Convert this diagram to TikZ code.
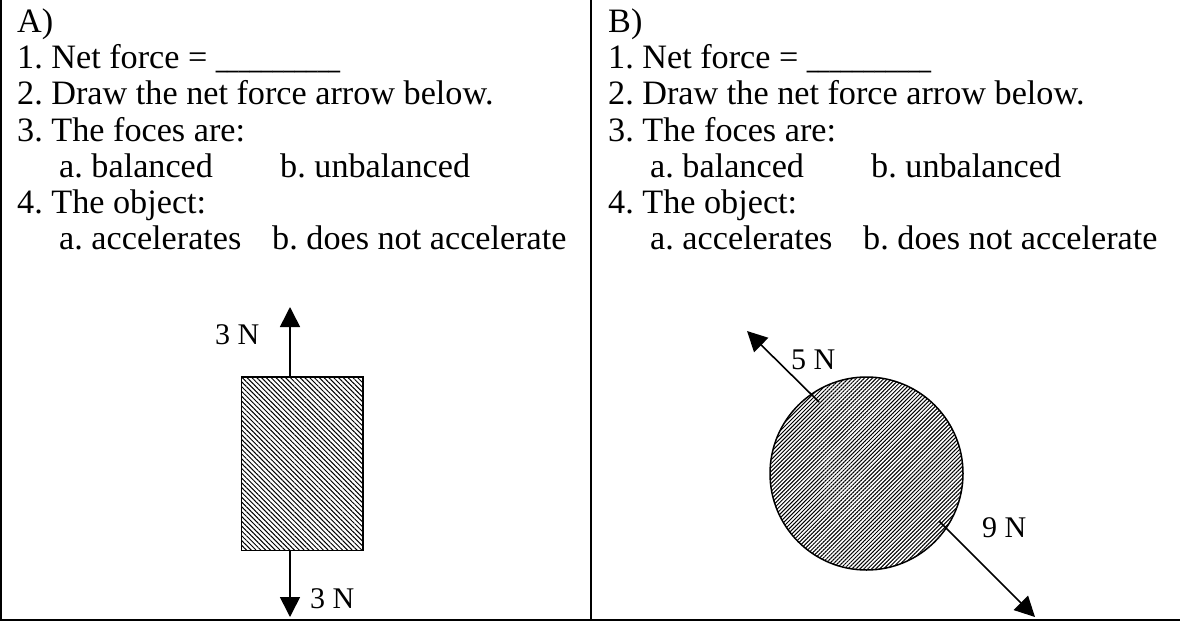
\documentclass[tikz,border=0pt]{standalone}
\usepackage{fontspec}
\usepackage{graphicx}
\setmainfont{Liberation Serif}
\usetikzlibrary{arrows.meta,patterns.meta}
\frenchspacing
\begin{document}
\begin{tikzpicture}[x=1pt,y=-1pt,
  txt/.style={anchor=base west,inner sep=0pt,font=\fontsize{34.2}{36}\selectfont},
  lbl/.style={anchor=base west,inner sep=0pt,font=\fontsize{30}{32}\selectfont},
  frame/.style={line width=2pt},
  force/.style={line width=1.6pt,-{Triangle[length=20pt,width=20pt]}},
  body/.style={draw,line width=1.5pt,inner sep=0pt}]
\useasboundingbox (0,0) rectangle (1180,621);
% frame
\coordinate (tl) at (1,0);
\coordinate (bl) at (1,620);
\coordinate (br) at (1180,620);
\coordinate (mt) at (591,0);
\coordinate (mb) at (591,620);
\draw[frame] (tl) -- (bl) -- (br);
\draw[frame] (mt) -- (mb);
% column A text
\node[txt] (aT) at (17,32) {A)};
\node[txt] (a1) at (17,68.3) {1. Net force = \scalebox{0.66}[1]{\_\_\_\_\_\_\_\_\_\_\_}};
\node[txt] (a2) at (17,104.6) {2. Draw the net force arrow below.};
\node[txt] (a3) at (17,141) {3. The foces are:};
\node[txt] (a3a) at (59,177.2) {a. balanced};
\node[txt] (a3b) at (280,177.2) {b. unbalanced};
\node[txt] (a4) at (17,213.5) {4. The object:};
\node[txt] (a4a) at (59,249.8) {a. accelerates};
\node[txt] (a4b) at (272,249.8) {b. does not accelerate};
% column B text
\node[txt] (bT) at (608,32) {B)};
\node[txt] (b1) at (608,68.3) {1. Net force = \scalebox{0.66}[1]{\_\_\_\_\_\_\_\_\_\_\_}};
\node[txt] (b2) at (608,104.6) {2. Draw the net force arrow below.};
\node[txt] (b3) at (608,141) {3. The foces are:};
\node[txt] (b3a) at (650,177.2) {a. balanced};
\node[txt] (b3b) at (871,177.2) {b. unbalanced};
\node[txt] (b4) at (608,213.5) {4. The object:};
\node[txt] (b4a) at (650,249.8) {a. accelerates};
\node[txt] (b4b) at (863,249.8) {b. does not accelerate};
% figure A: block
\node[body,rectangle,minimum width=121.5pt,minimum height=173.5pt,
  pattern={Lines[angle=-45,distance=3.4pt,line width=1pt]}] (box) at (302.25,463.75) {};
\coordinate (upTip) at (290,307);
\coordinate (downTip) at (290,617);
\draw[force] (box.north -| upTip) -- (upTip);
\draw[force] (box.south -| downTip) -- (downTip);
\node[lbl] (up3) at (215,344) {3 N};
\node[lbl] (dn3) at (310,608) {3 N};
% figure B: ball
\node[body,circle,minimum size=193pt,
  pattern={Lines[angle=45,distance=2.8pt,line width=1pt]}] (ball) at (866.5,473.5) {};
\coordinate (s5) at (819,402);
\coordinate (t5) at (747,331);
\coordinate (s9) at (939,521);
\coordinate (t9) at (1035,617);
\draw[force] (s5) -- (t5);
\draw[force] (s9) -- (t9);
\node[lbl] (f5) at (791,369) {5 N};
\node[lbl] (f9) at (982,537) {9 N};
\end{tikzpicture}
\end{document}
